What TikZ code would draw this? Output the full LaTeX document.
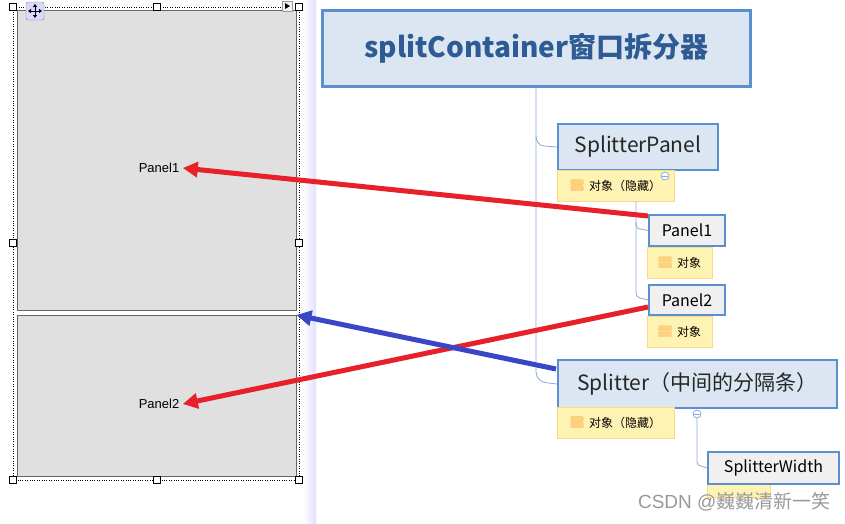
\documentclass[tikz,border=0pt]{standalone}
\usepackage{fontspec}
\setmainfont{Noto Sans CJK SC}
\newfontfamily\arialf{Liberation Sans}
\usetikzlibrary{arrows.meta}
\definecolor{bbord}{HTML}{5B8FD0}
\definecolor{bfill}{HTML}{DCE6F2}
\definecolor{yfill}{HTML}{FFF3B3}
\definecolor{yline}{HTML}{F3DE8A}
\definecolor{tline}{HTML}{8EAADB}
\definecolor{redA}{HTML}{E8202A}
\definecolor{bluA}{HTML}{3A45C8}
\definecolor{ttext}{HTML}{2E5B94}
\tikzset{x=1pt,y=-1pt,
 topic/.style={draw=bbord,line width=2pt,fill=bfill,text=black!85,inner sep=0pt,anchor=north west,font=\fontsize{21}{23}\selectfont},
 sub/.style={draw=bbord,line width=2pt,fill=black!6,text=black,inner sep=0pt,anchor=north west,font=\fontsize{16}{18}\selectfont},
 note/.style={draw=yline,fill=yfill,inner sep=0pt,anchor=north west,font=\fontsize{12}{14}\selectfont},
 handle/.style={draw=black,fill=white,minimum size=7pt,inner sep=0pt},
 tree/.style={draw=tline,line width=0.8pt},
 arr/.style={line width=5pt,-{Triangle[length=15pt,width=15pt]}},
 lbl/.style={font=\arialf\fontsize{13}{15}\selectfont}}
\newcommand\ico{\tikz[x=1pt,y=1pt]{\draw[yline!80!orange,fill=yfill!70!orange,rounded corners=1pt] (0,0) rectangle (13,5) (0,6) rectangle (13,11);}}
\begin{document}
\begin{tikzpicture}
\useasboundingbox[fill=white] (0,0) rectangle (845,523);
% left designer
\fill[left color=white,right color=blue!12] (303,0) rectangle (316,523);
\draw[dotted] (13,7) rectangle (299,480);
\node[draw=black!60,fill=black!12,minimum width=279pt,minimum height=300pt,anchor=north west,inner sep=0pt] (p1) at (17,10) {};
\node[draw=black!60,fill=black!12,minimum width=279pt,minimum height=161pt,anchor=north west,inner sep=0pt] (p2) at (17,315) {};
\foreach \p in {(13,7),(157,7),(299,7),(13,243),(299,243),(13,480),(157,480),(299,480)} \node[handle] at \p {};
\node[draw=black!50,fill=blue!15,rounded corners=2pt,minimum size=18pt,inner sep=0pt] (mv) at (35,11) {};
\draw[-{Triangle[length=3pt,width=4pt]},line width=1pt] (mv.center) -- ++(0,-7);
\draw[-{Triangle[length=3pt,width=4pt]},line width=1pt] (mv.center) -- ++(0,7);
\draw[-{Triangle[length=3pt,width=4pt]},line width=1pt] (mv.center) -- ++(-7,0);
\draw[-{Triangle[length=3pt,width=4pt]},line width=1pt] (mv.center) -- ++(7,0);
\node[draw=black!40,fill=black!5,minimum size=10pt,inner sep=0pt] (tr) at (287,6) {};
\fill (285,3) -- (290,6) -- (285,9) -- cycle;
\node[lbl] (l1) at (159,168) {Panel1};
\node[lbl] (l2) at (159,404) {Panel2};
% mind map
\node[draw=bbord,line width=3pt,fill=bfill,minimum width=428pt,minimum height=76pt,anchor=north west,inner sep=0pt,text=ttext,font=\bfseries\fontsize{28}{30}\selectfont] (t) at (321,9) {splitContainer窗口拆分器};
\node[topic,minimum width=160pt,minimum height=46pt] (sp) at (557,123) {SplitterPanel};
\node[note,minimum width=117pt,minimum height=31pt] (n1) at (557,170) {\ico\ \ 对象（隐藏）};
\node[sub,minimum width=76pt,minimum height=31pt] (pa1) at (648,214) {Panel1};
\node[note,minimum width=65pt,minimum height=31pt] (n2) at (647,247) {\ico\ \ 对象};
\node[sub,minimum width=76pt,minimum height=30pt] (pa2) at (648,284) {Panel2};
\node[note,minimum width=65pt,minimum height=31pt] (n3) at (647,316) {\ico\ \ 对象};
\node[topic,minimum width=279pt,minimum height=48pt] (spl) at (557,359) {Splitter（中间的分隔条）};
\node[note,minimum width=117pt,minimum height=31pt] (n4) at (557,407) {\ico\ \ 对象（隐藏）};
\node[note,minimum width=63pt,minimum height=14pt] (n5) at (707,483) {};
\node[sub,minimum width=131pt,minimum height=32pt] (sw) at (707,451) {SplitterWidth};
\coordinate (c1) at (665,176);
\coordinate (c2) at (697,414);
\draw[tree] (536,86) -- (536,372) to[out=-90,in=180] (548,383) -- (spl.west);
\draw[tree] (536,136) to[out=-90,in=180] (544,146) -- (sp.west);
\draw[tree] (636,201) -- (636,222) to[out=-90,in=180] (640,229) -- (pa1.west);
\draw[tree] (636,222) -- (636,292) to[out=-90,in=180] (640,298) -- (pa2.west);
\draw[tree] (c2) -- (697,462) to[out=-90,in=180] (701,466) -- (sw.west);
\draw[tree,fill=white] (c1) circle (4pt) (c2) circle (4pt);
\draw[tree] (662,176)--(668,176) (694,414)--(700,414);
\node[text=black!40,font=\arialf\fontsize{19}{21}\selectfont,anchor=east] (wm) at (834,502) {CSDN @\fontspec{Noto Sans CJK SC}巍巍清新一笑};
% arrows
\draw[arr,redA] (648,216) -- (l1.east);
\draw[arr,redA] (648,307) -- (l2.east);
\draw[arr,bluA] (556,369) -- (p2.north east);
\end{tikzpicture}
\end{document}
